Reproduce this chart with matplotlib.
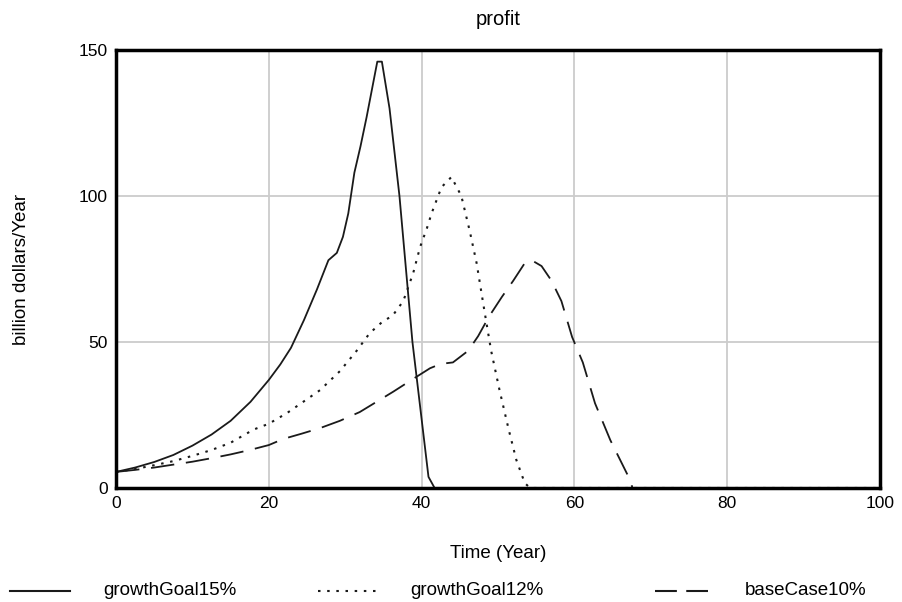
import matplotlib.pyplot as plt
from matplotlib.lines import Line2D

plt.rcParams['font.family'] = ['Liberation Sans', 'DejaVu Sans']

# values
t_15 = [0, 2.5, 5, 7.5, 10, 12.5, 15, 17.6, 20, 21.5, 22.9, 24.6, 26.3, 27.8,
        28.9, 29.7, 30.4, 31.2, 32, 32.8, 34.2, 34.8, 35.8, 37.1, 38.8, 40.9,
        41.7, 100]
growth15 = [5.5, 7, 8.9, 11.3, 14.5, 18.3, 23, 29.5, 37, 42.3, 48, 57.5, 68, 78,
            80.5, 86, 94, 108, 117, 127, 146, 146, 130, 100, 50, 3.8,
            0, 0]

t_12 = [0, 2.5, 5, 7.5, 10, 12.5, 15, 18, 20, 22.4, 24.5, 26.7, 29.3, 31.5,
        33.2, 34.9, 36.2, 37.6, 38.9, 39.8, 40.7, 41.3, 42.6, 43.9, 45.2, 46.3,
        47.2, 48.2, 49.1, 50.2, 51.4, 52.4, 53.5, 54.2, 100]
growth12 = [5.5, 6.5, 7.8, 9.2, 11, 13, 15.5, 20, 22, 25.7, 29.5, 33.5, 40, 47,
            53, 57, 59, 64, 73.6, 82.5, 89, 94, 103, 106.5, 100, 88,
            77, 61, 47, 33.5, 20, 9.6, 1.7, 0, 0]

t_10 = [0, 2.5, 5, 7.5, 10, 12.5, 15, 17.5, 20, 21.9, 24.3, 26.7, 29.3, 31.9,
        36.3, 39.1, 41.1, 42.5, 44.1, 46.1, 47.4, 48.8, 50.5, 52, 53.5, 54.4,
        55.7, 57, 58.3, 59.7, 61.1, 62.7, 64.7, 67.3, 67.6, 100]
base10 = [5.5, 6.2, 7, 8, 9, 10.2, 11.5, 13, 14.7, 16.8, 18.6, 20.5, 23, 26,
          33, 37.7, 41, 42.5, 43, 47, 52, 58.6, 65.4, 71, 77, 78,
          76, 71, 64, 51.7, 43, 29, 16.4, 2.7, 0, 0]

names = ['growthGoal15%', 'growthGoal12%', 'baseCase10%']
x_ticks = [0, 20, 40, 60, 80, 100]
y_ticks = [0, 50, 100, 150]

ink = '#1a1a1a'
dot_style = (0, (1.2, 3.2))
dash_style = (0, (13, 6.5))

fig = plt.figure(figsize=(9.03, 6.02), dpi=100)
ax = fig.add_axes([0.1285, 0.1894, 0.8460, 0.7276])

ax.plot(t_15, growth15, color=ink, lw=1.3)
ax.plot(t_12, growth12, color=ink, lw=1.5, linestyle=dot_style)
ax.plot(t_10, base10, color=ink, lw=1.3, linestyle=dash_style)

ax.set_xlim(0, 100)
ax.set_ylim(0, 150)
ax.set_xticks(x_ticks)
ax.set_yticks(y_ticks)
ax.grid(True, color='#cccccc', lw=1.3)
ax.set_axisbelow(True)
ax.tick_params(length=0, labelsize=12.5, pad=6)
for s in ax.spines.values():
    s.set_linewidth(2.5)
    s.set_color('black')

ax.set_xlabel('Time (Year)', fontsize=13.5, labelpad=24)
ax.set_ylabel('billion dollars/Year', fontsize=13.5)
ax.yaxis.set_label_coords(-0.112, 0.5)
fig.text(0.552, 0.968, 'profit', ha='center', va='center', fontsize=14.5)

# legend row at the bottom
styles = ['-', dot_style, (0, (10.5, 4.5))]
line_x = [(0.011, 0.078), (0.352, 0.419), (0.725, 0.784)]
text_x = [0.114, 0.454, 0.825]
for name, st, (x0, x1), tx in zip(names, styles, line_x, text_x):
    fig.add_artist(Line2D([x0, x1], [0.019, 0.019], color=ink,
                          lw=1.5, linestyle=st))
    fig.text(tx, 0.019, name, va='center', ha='left', fontsize=13.5)

fig.savefig('out.png', dpi=100)
